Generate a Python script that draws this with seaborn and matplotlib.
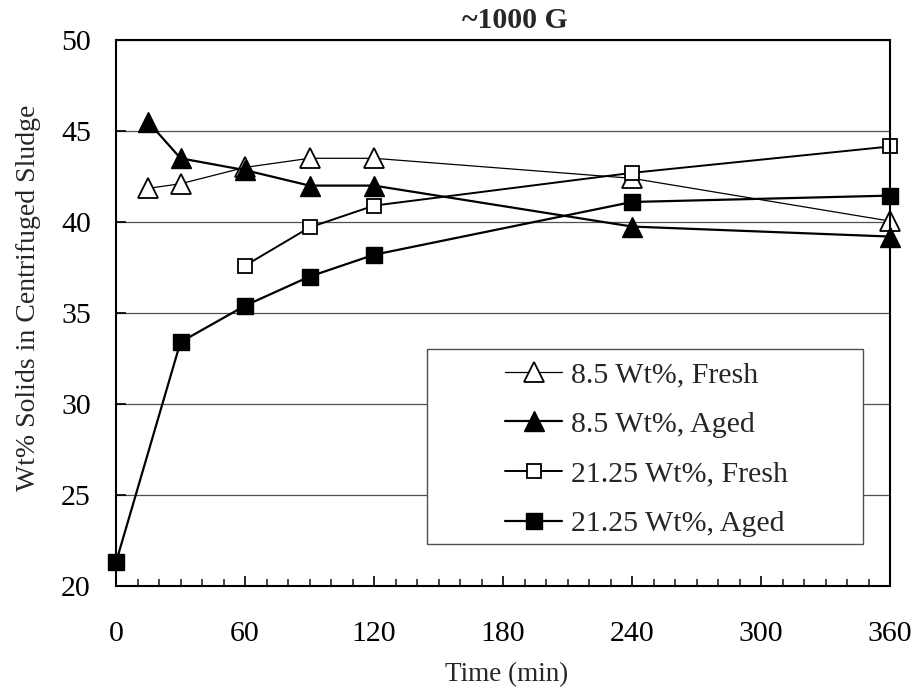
import matplotlib
matplotlib.use("Agg")
import matplotlib.pyplot as plt
import seaborn as sns
import numpy as np
from matplotlib.patches import Rectangle
from matplotlib.ticker import MultipleLocator

# ---- data ----
t_85 = [15, 30, 60, 90, 120, 240, 360]
fresh_85 = [41.85, 42.1, 43.0, 43.5, 43.5, 42.4, 40.05]
aged_85 = [45.5, 43.5, 42.85, 42.0, 42.0, 39.75, 39.2]
t_2125_fresh = [60, 90, 120, 240, 360]
fresh_2125 = [37.6, 39.7, 40.9, 42.7, 44.15]
t_2125_aged = [0, 30, 60, 90, 120, 240, 360]
aged_2125 = [21.3, 33.4, 35.4, 37.0, 38.2, 41.1, 41.45]
labels = ["8.5 Wt%, Fresh", "8.5 Wt%, Aged", "21.25 Wt%, Fresh", "21.25 Wt%, Aged"]
x_ticks = [0, 60, 120, 180, 240, 300, 360]
y_ticks = [20, 25, 30, 35, 40, 45, 50]

sns.set_theme(style="white")
plt.rcParams['font.family'] = ['Liberation Serif', 'DejaVu Serif']

fig = plt.figure(figsize=(9.15, 6.89), dpi=100)
ax = fig.add_axes([116/915, 1 - 586/689, (890-116)/915, (586-40)/689])

common = dict(ax=ax, color='black', clip_on=False, zorder=2)
sns.lineplot(x=t_85, y=fresh_85, lw=0.9, marker='^',
             markersize=14.5, markerfacecolor='white', markeredgecolor='black',
             markeredgewidth=1.3, label=labels[0], **common)
sns.lineplot(x=t_85, y=aged_85, lw=1.6, marker='^',
             markersize=14.5, markerfacecolor='black', markeredgecolor='black',
             markeredgewidth=1.0, label=labels[1], **common)
sns.lineplot(x=t_2125_fresh, y=fresh_2125, lw=1.4, marker='s',
             markersize=10, markerfacecolor='white', markeredgecolor='black',
             markeredgewidth=1.3, label=labels[2], **common)
sns.lineplot(x=t_2125_aged, y=aged_2125, lw=1.6, marker='s',
             markersize=11, markerfacecolor='black', markeredgecolor='black',
             markeredgewidth=1.0, label=labels[3], **common)

ax.set_xlim(0, 360)
ax.set_ylim(20, 50)
ax.set_xticks(x_ticks)
ax.set_yticks(y_ticks)
ax.xaxis.set_minor_locator(MultipleLocator(10))
ax.tick_params(axis='x', which='major', direction='in', length=7, width=1.2,
               labelsize=21.5, pad=25, bottom=True, colors='black')
ax.tick_params(axis='x', which='minor', direction='in', length=5, width=1.2, bottom=True)
ax.tick_params(axis='y', which='major', direction='in', length=7, width=1.2,
               labelsize=21.5, pad=18, left=True, colors='black')
ax.grid(False)
ax.yaxis.grid(True, color='#505050', lw=0.9)
ax.set_axisbelow(True)
for s in ax.spines.values():
    s.set_color('black')
    s.set_linewidth(1.5)
    s.set_visible(True)

ax.set_title("~1000 G", fontsize=21.5, fontweight='bold', pad=9, x=0.516)
ax.set_xlabel("Time (min)", fontsize=19.5)
ax.set_ylabel("Wt% Solids in Centrifuged Sludge", fontsize=20)
ax.xaxis.set_label_coords(0.505, -0.14)
ax.yaxis.set_label_coords(-0.097, 0.527)

rect = Rectangle((311/774, 42/546), 436/774, 195/546, transform=ax.transAxes,
                 facecolor='white', edgecolor='#505050', lw=1.0, zorder=3)
ax.add_patch(rect)
leg = ax.legend(loc='center', bbox_to_anchor=(0.6855, 0.2505), frameon=False,
                fontsize=21.5, handlelength=1.9, handletextpad=0.3, labelspacing=0.76,
                borderaxespad=0)
leg.set_zorder(4)

fig.savefig("out.png", dpi=100)
